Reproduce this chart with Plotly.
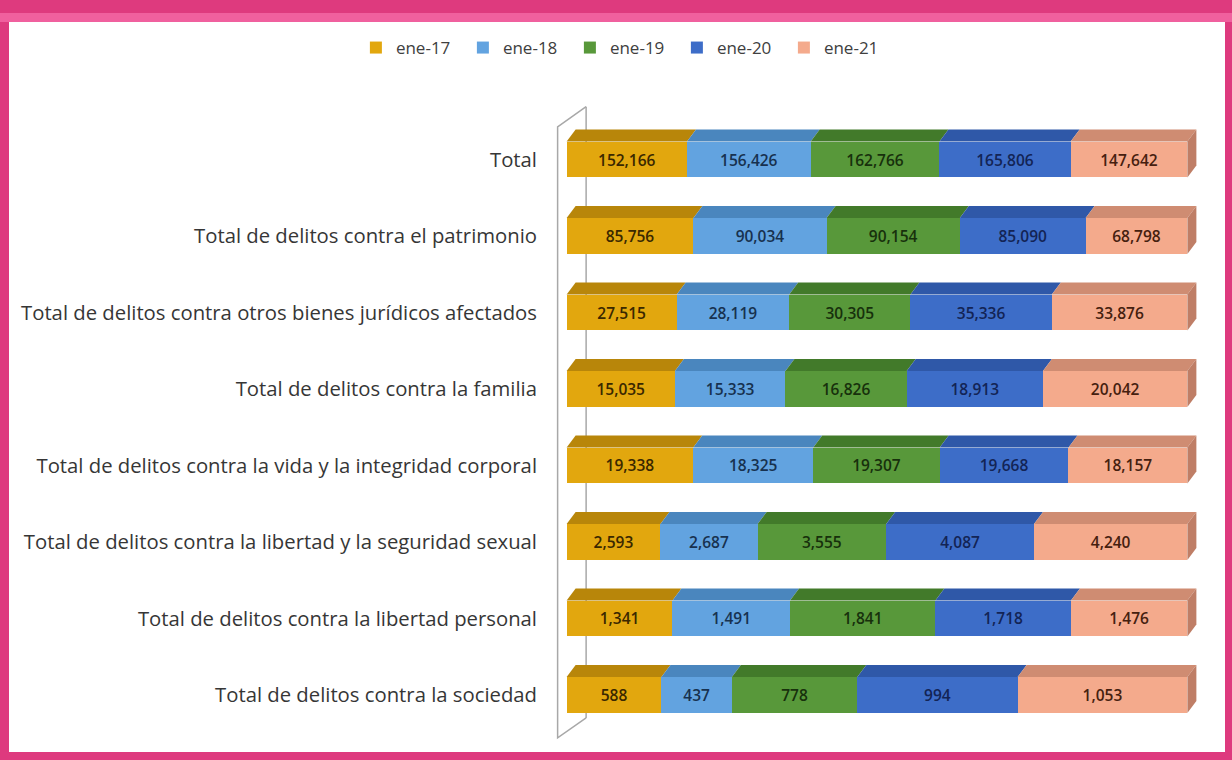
import plotly.graph_objects as go

categories = [
    "Total",
    "Total de delitos contra el patrimonio",
    "Total de delitos contra otros bienes jurídicos afectados",
    "Total de delitos contra la familia",
    "Total de delitos contra la vida y la integridad corporal",
    "Total de delitos contra la libertad y la seguridad sexual",
    "Total de delitos contra la libertad personal",
    "Total de delitos contra la sociedad",
]
series_names = ["ene-17", "ene-18", "ene-19", "ene-20", "ene-21"]
ene17 = [152166, 85756, 27515, 15035, 19338, 2593, 1341, 588]
ene18 = [156426, 90034, 28119, 15333, 18325, 2687, 1491, 437]
ene19 = [162766, 90154, 30305, 16826, 19307, 3555, 1841, 778]
ene20 = [165806, 85090, 35336, 18913, 19668, 4087, 1718, 994]
ene21 = [147642, 68798, 33876, 20042, 18157, 4240, 1476, 1053]
series_values = [ene17, ene18, ene19, ene20, ene21]

front_colors = ["#E2A70E", "#62A3E0", "#58983A", "#3D6DC8", "#F4AA8C"]
top_colors = ["#B8860A", "#4A86BE", "#427A2A", "#2F58A8", "#CF8C72"]
text_colors = ["#3A2800", "#17314F", "#17300C", "#132455", "#45200F"]
side_color = "#BF7E66"

W, H = 1232, 760
ML, MR, MT, MB = 548, 26, 100, 15
PW, PH = W - ML - MR, H - MT - MB
X_RANGE = [-3, 103]
Y_RANGE = [7.654, -0.778]
BAR_W = 0.47

px_per_x = PW / (X_RANGE[1] - X_RANGE[0])
px_per_y = PH / (Y_RANGE[0] - Y_RANGE[1])
DX = 9 / px_per_x      # depth offset in x units
DY = 12 / px_per_y     # depth offset in y units

def paper_x(p):
    return (p - ML) / PW

def paper_y(p):
    return (H - MB - p) / PH

ypos = list(range(len(categories)))
fig = go.Figure()

for j, (name, vals) in enumerate(zip(series_names, series_values)):
    fig.add_trace(go.Bar(
        name=name,
        y=ypos,
        x=vals,
        orientation="h",
        width=[BAR_W] * len(vals),
        marker=dict(color=front_colors[j], line=dict(width=0)),
        text=[f"{v:,}" for v in vals],
        textposition="inside",
        insidetextanchor="middle",
        textangle=0,
        insidetextfont=dict(size=15.5, color=text_colors[j], family="Open Sans", weight=600),
        hoverinfo="skip",
    ))

shapes = []
# frame
shapes.append(dict(type="rect", xref="paper", yref="paper", layer="below",
                   x0=paper_x(9), x1=paper_x(1225), y0=paper_y(752), y1=paper_y(22),
                   fillcolor="white", line=dict(width=0)))
shapes.append(dict(type="rect", xref="paper", yref="paper", layer="below",
                   x0=paper_x(0), x1=paper_x(W), y0=paper_y(22), y1=paper_y(13),
                   fillcolor="#F0609E", line=dict(width=0)))

# 3D faces computed from the data
for i in range(len(categories)):
    row = [s[i] for s in series_values]
    tot = sum(row)
    cum = 0.0
    y_top = i - BAR_W / 2
    y_bot = i + BAR_W / 2
    for j, v in enumerate(row):
        L = cum / tot * 100
        cum += v
        R = cum / tot * 100
        path = (f"M {L},{y_top} L {R},{y_top} L {R + DX},{y_top - DY} "
                f"L {L + DX},{y_top - DY} Z")
        shapes.append(dict(type="path", xref="x", yref="y", path=path,
                           fillcolor=top_colors[j], line=dict(width=0), layer="above"))
        if j == len(row) - 1:
            side = (f"M {R},{y_top} L {R + DX},{y_top - DY} L {R + DX},{y_bot - DY} "
                    f"L {R},{y_bot} Z")
            shapes.append(dict(type="path", xref="x", yref="y", path=side,
                               fillcolor=side_color, line=dict(width=0), layer="above"))

# back wall lines
wall_front_x = -9 / px_per_x
wall_back_x = 19.5 / px_per_x
y_first, y_last = -0.5, len(categories) - 0.5
shapes.append(dict(type="path", xref="x", yref="y", layer="below",
                   path=(f"M {wall_back_x},{y_first - 0.19} L {wall_back_x},{y_last - 0.2}"),
                   line=dict(color="#A8A8A8", width=1.5)))
shapes.append(dict(type="path", xref="x", yref="y", layer="above",
                   path=(f"M {wall_back_x},{y_first - 0.19} L {wall_front_x},{y_first + 0.075} "
                         f"L {wall_front_x},{y_last + 0.06} L {wall_back_x},{y_last - 0.2}"),
                   line=dict(color="#A8A8A8", width=1.5)))

fig.update_layout(
    width=W, height=H,
    margin=dict(l=ML, r=MR, t=MT, b=MB, pad=0),
    barmode="stack",
    barnorm="percent",
    paper_bgcolor="#DE3A7E",
    plot_bgcolor="rgba(0,0,0,0)",
    font=dict(family="Open Sans", color="#404040"),
    shapes=shapes,
    showlegend=True,
    legend=dict(orientation="h", xref="container", yref="container",
                x=0.506, y=1 - 48 / H, xanchor="center", yanchor="middle",
                font=dict(size=17, color="#404040"), bgcolor="rgba(0,0,0,0)",
                itemwidth=30, entrywidth=62, entrywidthmode="pixels",
                traceorder="normal"),
    xaxis=dict(range=X_RANGE, visible=False, fixedrange=True),
    yaxis=dict(range=Y_RANGE, tickvals=ypos, ticktext=categories,
               showgrid=False, zeroline=False, showline=False,
               tickfont=dict(size=20.3, color="#363636", family="Open Sans"),
               ticks="", ticklabelstandoff=10, fixedrange=True),
)

fig.write_html("out.html", config={"displayModeBar": False},
               post_script="document.body.style.margin='0';document.body.style.overflow='hidden';")
